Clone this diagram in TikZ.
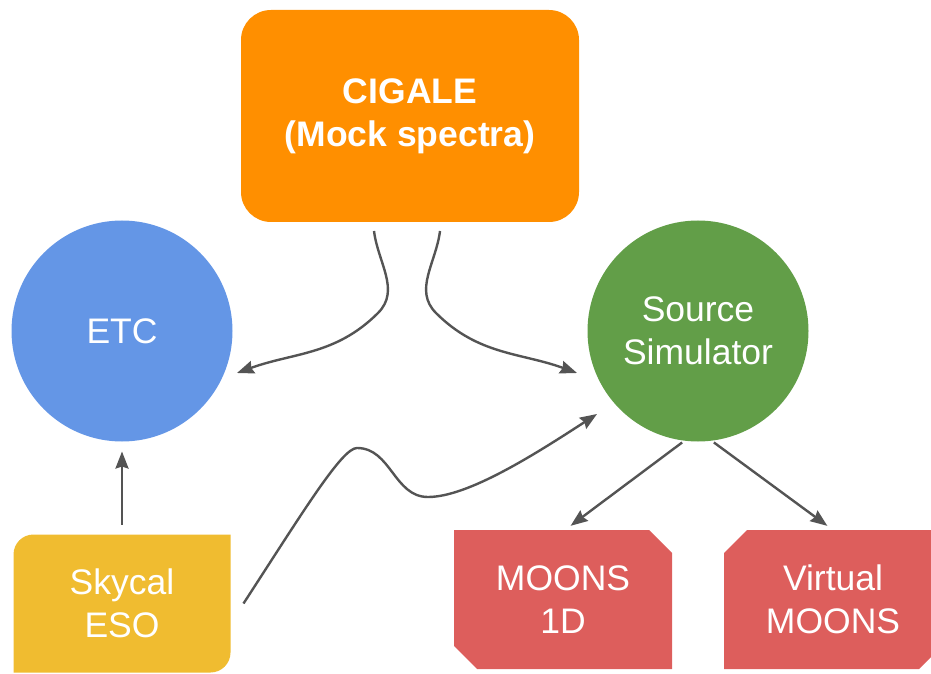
\documentclass[tikz,border=0pt]{standalone}
\usepackage{fontspec}
\setmainfont{Liberation Sans}
\usepackage{tikz}
\usetikzlibrary{arrows.meta,positioning,calc,backgrounds}

\definecolor{cigaleOrange}{RGB}{255,143,0}
\definecolor{etcBlue}{RGB}{100,150,230}
\definecolor{srcGreen}{RGB}{98,158,72}
\definecolor{skyYellow}{RGB}{240,188,48}
\definecolor{moonsRed}{RGB}{221,94,92}
\definecolor{arrowGray}{RGB}{84,84,84}

\begin{document}
\begin{tikzpicture}[
    x=1pt, y=1pt,
    font=\fontsize{35.5}{43}\selectfont,
    baseNode/.style={
        text=white, align=center, inner sep=0pt, outer sep=0pt
    },
    cigaleNode/.style={
        baseNode, rectangle, rounded corners=30pt, fill=cigaleOrange,
        minimum width=338pt, minimum height=212pt,
        font=\fontsize{35.5}{43}\selectfont\bfseries
    },
    circNode/.style={
        baseNode, circle, minimum size=221pt
    },
    boxNode/.style={
        baseNode, rectangle, minimum width=218pt, minimum height=139pt
    },
    flowArrow/.style={
        -{Stealth[length=17pt, width=13pt, inset=2pt]}, line width=2.4pt, draw=arrowGray
    }
]

\clip (0,0) rectangle (931,673);

% Top: CIGALE
\node[cigaleNode] (cigale) at (410,557) {CIGALE\\(Mock spectra)};

% Middle: ETC and Source Simulator
\node[circNode, fill=etcBlue] (etc) at (122,342) {ETC};
\node[circNode, fill=srcGreen, right=355pt of etc] (src) {Source\\Simulator};

% Bottom: inputs and outputs
\node[boxNode, minimum width=217pt, minimum height=138pt, below=93pt of etc] (sky) {Skycal\\ESO};
\node[boxNode] (moons1d) at (563,73.5) {MOONS\\1D};
\node[boxNode, right=52pt of moons1d] (vmoons) {Virtual\\MOONS};

% Box outlines with cut and rounded corners
\begin{scope}[on background layer]
    \fill[skyYellow] (sky.south west) -- ([yshift=-20pt]sky.north west)
        arc[start angle=180, end angle=90, radius=20pt] -- (sky.north east)
        -- ([yshift=20pt]sky.south east)
        arc[start angle=0, end angle=-90, radius=20pt] -- cycle;
    \fill[moonsRed] (moons1d.north west) -- ([xshift=-23pt]moons1d.north east)
        -- ([yshift=-23pt]moons1d.north east) -- (moons1d.south east)
        -- ([xshift=23pt]moons1d.south west) -- ([yshift=23pt]moons1d.south west) -- cycle;
    \fill[moonsRed] ([xshift=23pt]vmoons.north west) -- (vmoons.north east)
        -- ([yshift=23pt]vmoons.south east) -- ([xshift=-23pt]vmoons.south east)
        -- (vmoons.south west) -- ([yshift=-23pt]vmoons.north west) -- cycle;
\end{scope}

% Arrow ends and waypoints
\coordinate (etcIn) at ([shift={(115pt,-42pt)}]etc.center);
\coordinate (srcIn) at ([shift={(-121pt,-42pt)}]src.center);
\coordinate (srcLow) at ([shift={(-101pt,-83pt)}]src.center);
\coordinate (wavePeak) at (357,225);
\coordinate (waveDip) at (428,176);

% Flows
\draw[flowArrow] ([xshift=-36pt, yshift=-9pt]cigale.south)
    to[out=-83, in=45] ++(4,-82) to[out=-135, in=20] (etcIn);
\draw[flowArrow] ([xshift=30pt, yshift=-9pt]cigale.south)
    to[out=-97, in=135] ++(-4,-82) to[out=-45, in=160] (srcIn);

\draw[flowArrow, shorten <=10pt, shorten >=10pt] (sky.north) -- (etc.south);

\draw[flowArrow] ([xshift=13pt]sky.east)
    to[out=57, in=180, out distance=110pt, in distance=15pt] (wavePeak)
    to[out=0, in=180, out distance=34pt, in distance=34pt] (waveDip)
    to[out=0, in=213, out distance=40pt, in distance=74pt] (srcLow);

\draw[flowArrow, shorten <=3pt, shorten >=7pt] (src.263) -- ([xshift=2pt]moons1d.north);
\draw[flowArrow, shorten <=3pt, shorten >=7pt] (src.277) -- (vmoons.north);

\end{tikzpicture}
\end{document}
